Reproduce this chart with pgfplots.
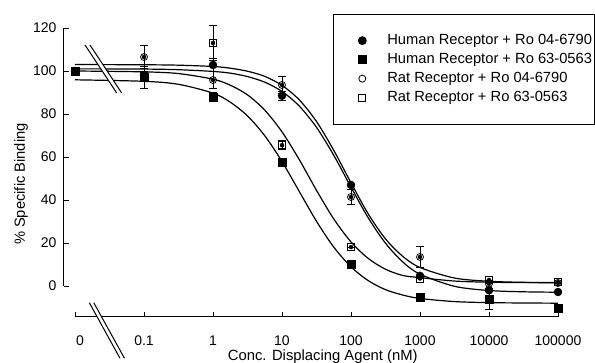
\documentclass[border=0pt]{standalone}
\usepackage{fontspec}
\setmainfont{Liberation Sans}
\usepackage{pgfplots}
\pgfplotsset{compat=1.18}
\pgfplotsset{lim/.style={legend image code/.code={\path[draw=none, fill=none] (0pt,0pt) -- (52pt,0pt); \draw[##1] plot coordinates {(27pt,0pt)};}}}
\pgfplotstableread{
x y e
-2 100 0
-1 98 0
0 102.8 3
1 88.5 2
2 47 0
3 4.7 0
4 -2 0
5 -2.8 0
}\humanA
\pgfplotstableread{
x y e
-2 100 0
-1 97 5
0 88 2
1 57.8 0
2 10.2 0
3 -5 1
4 -6 5
5 -10.5 0
}\humanB
\pgfplotstableread{
x y e
-2 100 0
-1 106.5 5.5
0 95.8 4
1 93.5 4
2 41.4 3.5
3 13.5 5
4 1 0
5 1.4 0
}\ratA
\pgfplotstableread{
x y e
-2 100 0
-1 98 0
0 113 8
1 65.5 2
2 18.1 0
3 3.5 0
4 2.8 0
5 1.8 0
}\ratB
\begin{document}
\begin{tikzpicture}
\useasboundingbox (-75pt,-46pt) rectangle (520pt,317pt);
% y axis
\begin{axis}[
  at={(-11pt,31pt)}, anchor=south west, scale only axis,
  width=10pt, height=258pt,
  xmin=0, xmax=1, ymin=0, ymax=120,
  axis x line=none, axis y line*=left,
  ytick={0,20,...,120},
  tick align=inside, major tick length=5pt,
  axis line style={line width=1pt, black},
  tick style={line width=0.9pt, black},
  yticklabel style={font=\fontsize{14}{16}\selectfont, xshift=-4pt},
  /pgf/number format/assume math mode=true,
  ylabel={\% Specific Binding},
  ylabel style={at={(axis description cs:-4.3,0.395)}, anchor=center, font=\fontsize{14.7}{16}\selectfont},
]
\end{axis}
% main axis
\begin{axis}[
  at={(0pt,0pt)}, anchor=south west, scale only axis,
  width=483pt, height=289pt,
  xmin=-2, xmax=5, ymin=-14.42, ymax=120,
  axis y line=none, axis x line*=bottom,
  xtick={-2,-1,0,1,2,3,4,5},
  xticklabels={\hspace*{10pt}0,0.1,1,10,100,1000,10000,100000},
  tick align=inside, major tick length=5pt,
  axis line style={line width=1pt, black},
  tick style={line width=0.9pt, black},
  xticklabel style={font=\fontsize{14}{16}\selectfont, yshift=-15pt},
  /pgf/number format/assume math mode=true,
  clip=false,
  xlabel={Conc. Displacing Agent (nM)},
  xlabel style={at={(axis description cs:0.513,-0.138)}, anchor=center, font=\fontsize{14.8}{16}\selectfont},
  legend style={at={(0.534,1.0484)}, anchor=north west, draw=black, line width=0.8pt,
    font=\fontsize{14.7}{16}\selectfont, inner xsep=2pt, inner ysep=19pt, row sep=4.5pt,
    nodes={inner sep=0pt, text height=11pt, text depth=3.5pt}},
  legend cell align=left,
  err/.style={forget plot, only marks, mark=none, black,
    error bars/.cd, y dir=both, y explicit,
    error bar style={line width=0.8pt, black},
    error mark options={rotate=90, mark size=4pt, line width=0.8pt, black}},
]
% fitted curves
\addplot[smooth, forget plot, line width=1.2pt, black] coordinates {
(-2,101.0) (-1,100.9) (-0.5,100.6) (0,99.8) (0.25,99.0) (0.5,97.4) (0.75,94.8) (1,90.5) (1.25,83.7) (1.5,73.8) (1.75,60.8) (2,46.0) (2.25,31.7) (2.5,19.9) (2.75,11.2) (3,5.5) (3.5,-0.15) (4,-2.1) (4.5,-2.7) (5,-2.9)};
\addplot[smooth, forget plot, line width=1.2pt, black] coordinates {
(-2,103.0) (-1,102.9) (-0.5,102.7) (0,102.1) (0.25,101.3) (0.5,99.9) (0.75,97.5) (1,93.3) (1.25,86.6) (1.5,76.5) (1.75,63.1) (2,48.0) (2.25,33.5) (2.5,21.9) (2.75,13.8) (3,8.6) (3.5,3.7) (4,2.2) (4.5,1.7) (5,1.6)};
\addplot[smooth, forget plot, line width=1.2pt, black] coordinates {
(-2,95.9) (-1,95.2) (-0.5,93.8) (0,89.7) (0.25,85.5) (0.5,79.1) (0.75,69.9) (1,57.9) (1.25,44.0) (1.5,30.1) (1.75,18.1) (2,8.9) (2.25,2.5) (2.5,-1.7) (2.75,-4.2) (3,-5.8) (3.5,-7.25) (4,-7.75) (4.5,-7.9) (5,-8.0)};
\addplot[smooth, forget plot, line width=1.2pt, black] coordinates {
(-2,100.0) (-1,99.6) (-0.5,98.8) (0,96.2) (0.25,93.4) (0.5,88.9) (0.75,81.8) (1,71.7) (1.25,58.8) (1.5,44.5) (1.75,31.2) (2,20.5) (2.25,12.8) (2.5,7.8) (2.75,4.9) (3,3.9) (3.5,2.3) (4,1.75) (4.5,1.6) (5,1.5)};
% error bars
\addplot[err] table[x=x,y=y,y error=e] {\humanA};
\addplot[err] table[x=x,y=y,y error=e] {\humanB};
\addplot[err] table[x=x,y=y,y error=e] {\ratA};
\addplot[err] table[x=x,y=y,y error=e] {\ratB};
% data points
\addplot[only marks, lim, mark=*, mark size=4pt, black, fill=black] table[x=x,y=y] {\humanA};
\addlegendentry{Human Receptor + Ro 04-6790}
\addplot[only marks, lim, mark=square*, mark size=4pt, black, fill=black] table[x=x,y=y] {\humanB};
\addlegendentry{Human Receptor + Ro 63-0563}
\addplot[only marks, lim, mark=o, mark size=3.5pt, black, line width=0.8pt] table[x=x,y=y] {\ratA};
\addlegendentry{Rat Receptor + Ro 04-6790}
\addplot[only marks, lim, mark=square, mark size=3.5pt, black, line width=0.8pt] table[x=x,y=y] {\ratB};
\addlegendentry{Rat Receptor + Ro 63-0563}
% axis breaks
\fill[white] (axis cs:-1.855,112.1) -- (axis cs:-1.396,89.8) -- (axis cs:-1.324,89.8) -- (axis cs:-1.783,112.1) -- cycle;
\draw[line width=1pt] (axis cs:-1.855,112.1) -- (axis cs:-1.396,89.8);
\draw[line width=1pt] (axis cs:-1.783,112.1) -- (axis cs:-1.324,89.8);
\fill[white] (axis cs:-1.793,-7.77) -- (axis cs:-1.348,-33.6) -- (axis cs:-1.283,-33.6) -- (axis cs:-1.728,-7.77) -- cycle;
\draw[line width=1pt] (axis cs:-1.793,-7.77) -- (axis cs:-1.348,-33.6);
\draw[line width=1pt] (axis cs:-1.728,-7.77) -- (axis cs:-1.283,-33.6);
\end{axis}
\end{tikzpicture}
\end{document}
